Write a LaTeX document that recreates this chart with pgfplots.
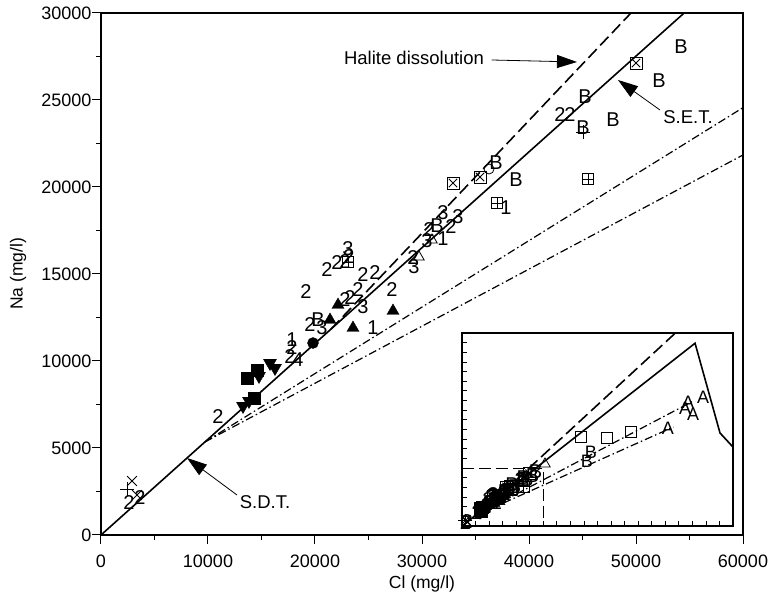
\documentclass[border=0pt]{standalone}
\usepackage{fontspec}
\setmainfont{Liberation Sans}
\usepackage{pgfplots}
\pgfplotsset{compat=1.18}
\usepackage{pgfplotstable}
\usetikzlibrary{arrows.meta}

\pgfplotstableread{
x y
13645 9023
14579 9483
14299 7874
}\tsq
\pgfplotstableread{
x y
14766 9138
15794 9885
16262 9598
13271 7414
13832 7701
}\tdn
\pgfplotstableread{
x y
19813 11034
}\tcirc
\pgfplotstableread{
x y
22150 13218
21402 12356
23551 11897
27290 12874
}\tup
\pgfplotstableread{
x y
30935 16954
29720 15977
}\topentri
\pgfplotstableread{
x y
36262 21034
}\topencirc
\pgfplotstableread{
x y
32897 20230
35421 20575
50000 27126
}\tsqx
\pgfplotstableread{
x y
37009 19080
45514 20460
23084 15690
}\tsqp
\pgfplotstableread{
x y
2430 2644
45047 23161
}\tplus
\pgfplotstableread{
x y
2897 3103
3364 2299
}\tcross
\pgfplotstableread{
x y
2617 1839
3645 2126
10935 6782
19159 13966
21121 15230
22056 15632
22804 15690
23178 15977
24486 14943
25607 15057
24019 14080
22804 13506
23271 13621
19533 12069
17850 10747
17664 10230
27196 14080
30654 17529
32710 17701
29159 15920
42897 24138
43832 24138
}\ttwo
\pgfplotstableread{
x y
23084 16437
24486 13103
20654 11897
31963 18506
33364 18276
30467 16897
29252 15402
}\tthree
\pgfplotstableread{
x y
17850 11207
25421 11897
31963 17011
37850 18793
}\tone
\pgfplotstableread{
x y
18411 10057
}\tfour
\pgfplotstableread{
x y
20280 12356
31402 17759
36916 21379
38785 20402
45234 25172
47850 23851
45047 23391
52150 26092
54206 28046
}\tB
% inset-only data
\pgfplotstableread{
x y
177860 66839
166790 64249
164576 61140
170480 58031
152030 50777
}\tinA
\pgfplotstableread{
x y
87823 46114
107011 45596
124723 48705
}\tinsq
\pgfplotstableread{
x y
95203 38342
92251 33679
}\tinB
\pgfplotstableread{
x y
61255 32124
}\tintri

\pgfplotsset{
  txt/.style={only marks, mark=text, text mark={#1}, text mark as node=true,
    text mark style={font=\fontsize{20}{20}\selectfont, inner sep=0pt, anchor=center}},
  txts/.style={only marks, mark=text, text mark={#1}, text mark as node=true,
    text mark style={font=\fontsize{18}{18}\selectfont, inner sep=0pt, anchor=center}},
}

\newcommand{\maindata}{%
\addplot[only marks, mark=square*, mark size=6pt] table {\tsq};
\addplot[only marks, mark=triangle*, mark size=7.5pt, mark options={rotate=180}] table {\tdn};
\addplot[only marks, mark=*, mark size=5.5pt] table {\tcirc};
\addplot[only marks, mark=triangle*, mark size=7pt] table {\tup};
\addplot[only marks, mark=triangle, mark size=6pt, mark options={line width=0.8pt}] table {\topentri};
\addplot[only marks, mark=o, mark size=5pt, mark options={line width=0.8pt}] table {\topencirc};
\addplot[only marks, mark=square, mark size=6pt, mark options={line width=0.8pt}] table {\tsqx};
\addplot[only marks, mark=x, mark size=6pt, mark options={line width=0.8pt}] table {\tsqx};
\addplot[only marks, mark=square, mark size=5.5pt, mark options={line width=0.8pt}] table {\tsqp};
\addplot[only marks, mark=+, mark size=5.5pt, mark options={line width=0.8pt}] table {\tsqp};
\addplot[only marks, mark=+, mark size=7pt, mark options={line width=0.8pt}] table {\tplus};
\addplot[only marks, mark=x, mark size=7pt, mark options={line width=0.8pt}] table {\tcross};
\addplot[txt={2}] table {\ttwo};
\addplot[txt={3}] table {\tthree};
\addplot[txt={1}] table {\tone};
\addplot[txt={4}] table {\tfour};
\addplot[txt={B}] table {\tB};
}

\begin{document}
\begin{tikzpicture}
\begin{axis}[
  name=main,
  scale only axis, width=642pt, height=522pt,
  xmin=0, xmax=60000, ymin=0, ymax=30000,
  xtick={0,10000,...,60000}, ytick={0,5000,...,30000},
  minor x tick num=1, minor y tick num=1,
  tick align=outside, xtick pos=left, ytick pos=left,
  major tick length=9pt, minor tick length=5pt,
  tick style={black, line width=1pt},
  axis line style={line width=1.2pt},
  scaled ticks=false,
  /pgf/number format/1000 sep={},
  /pgf/number format/assume math mode=true,
  tick label style={font=\fontsize{18}{18}\selectfont},
  xticklabel style={yshift=-7pt},
  yticklabel style={xshift=3pt},
  label style={font=\fontsize{17.5}{17.5}\selectfont},
  xlabel={Cl (mg/l)}, ylabel={Na (mg/l)},
  xlabel style={at={(axis description cs:0.5,-0.094)}, anchor=center},
  ylabel style={at={(axis description cs:-0.129,0.5)}, anchor=center},
  clip=true,
]
\addplot[line width=1.6pt] coordinates {(0,0) (54500,30000)};
\addplot[line width=1.6pt, dash pattern=on 12pt off 5pt] coordinates {(21500,11836) (49531,30000)};
\addplot[line width=1.2pt, dash pattern=on 8pt off 3pt on 1.5pt off 3pt] coordinates {(9720,5350) (60000,24560)};
\addplot[line width=1.2pt, dash pattern=on 8pt off 3pt on 1.5pt off 3pt] coordinates {(9720,5350) (60000,21840)};
\maindata
\node[font=\fontsize{18.5}{18.5}\selectfont, anchor=center] at (axis cs:29252,27414) {Halite dissolution};
\draw[line width=0.8pt, -{Triangle[length=20pt,width=13pt]}] (axis cs:36500,27299) -- (axis cs:44486,27184);
\node[font=\fontsize{18.5}{18.5}\selectfont, anchor=center] at (axis cs:54860,24023) {S.E.T.};
\draw[line width=0.8pt, -{Triangle[length=20pt,width=13pt]}] (axis cs:52243,24425) -- (axis cs:48318,26149);
\node[font=\fontsize{18.5}{18.5}\selectfont, anchor=center] at (axis cs:15327,1897) {S.D.T.};
\draw[line width=0.8pt, -{Triangle[length=20pt,width=13pt]}] (axis cs:12710,2299) -- (axis cs:8037,4425);
\coordinate (insetpos) at (rel axis cs:0.5623,0.01724);
\end{axis}

\begin{axis}[
  name=inset,
  at={(insetpos)}, anchor=south west,
  scale only axis, width=271pt, height=193pt,
  xmin=0, xmax=200000, ymin=0, ymax=100000,
  xtick={10000,20000,...,190000}, ytick={5000,10000,...,95000},
  xticklabels={}, yticklabels={},
  scaled ticks=false,
  tick align=inside, xtick pos=left, ytick pos=left,
  major tick length=5pt,
  tick style={black, line width=0.8pt},
  axis line style={line width=1.2pt},
  axis background/.style={fill=white},
  clip=true,
]
\addplot[line width=1.6pt] coordinates {(0,0) (172000,94700) (190400,48200) (200000,40900)};
\addplot[line width=1.6pt, dash pattern=on 12pt off 5pt] coordinates {(21500,11836) (157500,100000)};
\addplot[line width=1.2pt, dash pattern=on 8pt off 3pt on 1.5pt off 3pt] coordinates {(9720,5350) (170000,64500)};
\addplot[line width=1.2pt, dash pattern=on 8pt off 3pt on 1.5pt off 3pt] coordinates {(9720,5350) (156000,51300)};
\addplot[line width=1.4pt, dash pattern=on 12pt off 5pt] coordinates {(0,29900) (60000,29900) (60000,0)};
\maindata
\addplot[txts={A}] table {\tinA};
\addplot[only marks, mark=square, mark size=5.5pt, mark options={line width=0.8pt}] table {\tinsq};
\addplot[txts={B}] table {\tinB};
\addplot[only marks, mark=triangle, mark size=6pt, mark options={line width=0.8pt}] table {\tintri};
\end{axis}
\pgfresetboundingbox
\path[use as bounding box] ([shift={(-101pt,-68pt)}]main.south west) rectangle ([shift={(33pt,13pt)}]main.north east);
\end{tikzpicture}
\end{document}
